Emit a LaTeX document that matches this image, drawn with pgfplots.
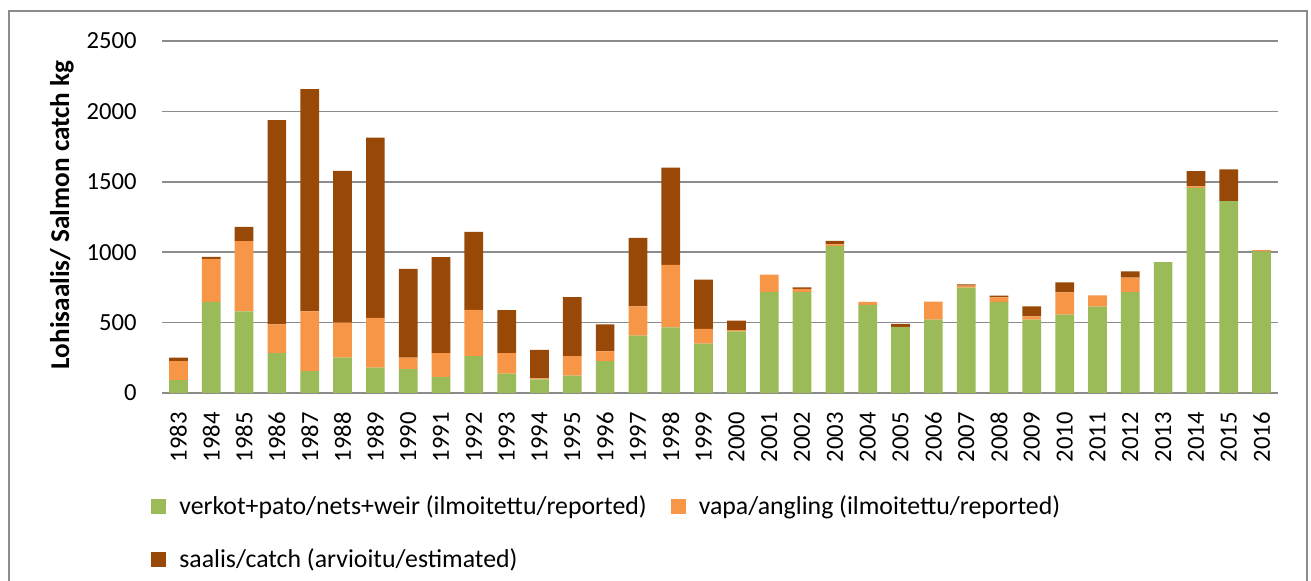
\documentclass[border=0pt]{standalone}
\usepackage{pgfplots}
\usepackage{pgfplotstable}
\pgfplotsset{compat=1.18}
\usepackage{fontspec}
\setmainfont{Carlito}
\definecolor{cgreen}{HTML}{9BBB59}
\definecolor{corange}{HTML}{F79646}
\definecolor{cbrown}{HTML}{984807}
\definecolor{cgrid}{HTML}{8C8C8C}
\pgfplotstableread{
x g o b
0 92 135 24
1 648 305 14
2 579 499 102
3 284 203 1451
4 156 423 1579
5 251 248 1078
6 180 354 1279
7 170 81 631
8 113 171 681
9 262 329 553
10 137 147 305
11 97 7 203
12 123 139 419
13 227 69 191
14 407 208 487
15 466 444 690
16 350 106 350
17 437 9 68
18 717 123 0
19 717 22 11
20 1043 12 26
21 625 22 0
22 467 2 22
23 522 127 0
24 748 14 10
25 647 33 11
26 522 23 71
27 557 158 71
28 614 80 0
29 717 102 45
30 930 0 0
31 1456 12 108
32 1362 0 226
33 1005 10 0
}\data
\newcommand{\fs}{\fontsize{12.3}{14.8}\selectfont}
\newcommand{\fl}{\fontsize{12.9}{15.5}\selectfont}
\begin{document}
\begin{tikzpicture}
\useasboundingbox (0,0) rectangle (655.5pt,-290.5pt);
\draw[cgrid, line width=1pt] (4.5pt,-295pt) -- (4.5pt,-5.5pt) -- (653.3pt,-5.5pt) -- (653.3pt,-295pt);
\begin{axis}[
  at={(81pt,-196.5pt)}, anchor=south west,
  scale only axis, width=558pt, height=176pt,
  ybar stacked, bar width=0.57,
  xmin=-0.5, xmax=33.5, ymin=0, ymax=2500,
  xtick=data,
  xticklabels={1983,1984,1985,1986,1987,1988,1989,1990,1991,1992,1993,1994,1995,1996,1997,1998,1999,2000,2001,2002,2003,2004,2005,2006,2007,2008,2009,2010,2011,2012,2013,2014,2015,2016},
  ytick={0,500,1000,1500,2000,2500},
  /pgf/number format/assume math mode=true,
  /pgf/number format/1000 sep={},
  major tick length=0pt,
  axis line style={draw=none},
  axis x line*=bottom,
  ymajorgrids, grid style={cgrid, line width=0.75pt},
  xticklabel style={rotate=90, anchor=east, inner sep=0pt, font=\fs},
  xticklabel shift=9.5pt,
  yticklabel style={inner sep=0pt, font=\fs},
  yticklabel shift=12.5pt,
  ylabel={\textbf{Lohisaalis/ Salmon catch kg}},
  ylabel style={at={(axis description cs:-0.0896,0.506)}, anchor=center, font=\fontsize{13.6}{16}\selectfont},
  legend columns=2,
  legend style={draw=none, fill=none, inner sep=0pt, font=\fl,
    at={(axis description cs:-0.0099,-0.28)}, anchor=north west,
    row sep=11.5pt, column sep=4.5pt,
    /tikz/every even column/.append style={column sep=10pt}},
  legend cell align=left,
  legend image code/.code={\fill[#1] (0pt,-3.75pt) rectangle (7.5pt,3.75pt);},
]
\addplot[fill=cgreen, draw=none] table[x=x, y=g] {\data};
\addplot[fill=corange, draw=none] table[x=x, y=o] {\data};
\addplot[fill=cbrown, draw=none] table[x=x, y=b] {\data};
\legend{verkot+pato/nets+weir (ilmoitettu/reported), vapa/angling (ilmoitettu/reported), saalis/catch (arvioitu/estimated)}
\end{axis}
\end{tikzpicture}
\end{document}
